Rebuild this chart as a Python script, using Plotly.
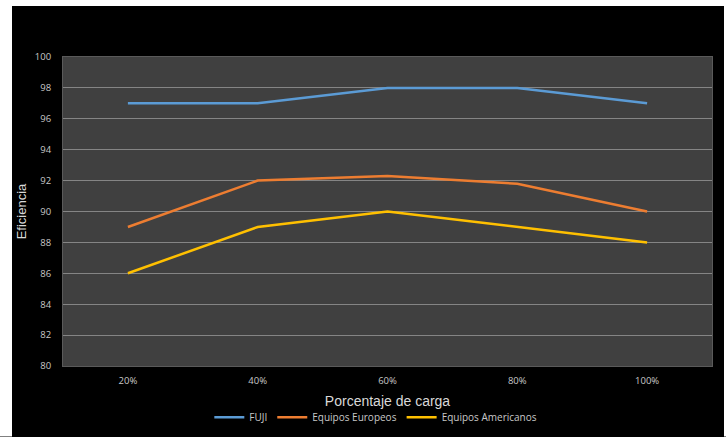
import plotly.graph_objects as go

# Load percentage categories and efficiency values per equipment group
categorias = ["20%", "40%", "60%", "80%", "100%"]
fuji = [97, 97, 98, 98, 97]
europeos = [89, 92, 92.3, 91.8, 90]
americanos = [86, 89, 90, 89, 88]
y_ticks = list(range(80, 101, 2))

series = [
    ("FUJI", fuji, "#5b9bd5"),
    ("Equipos Europeos", europeos, "#ed7d31"),
    ("Equipos Americanos", americanos, "#ffc000"),
]

fig = go.Figure()
for nombre, valores, color in series:
    fig.add_trace(go.Scatter(
        x=categorias, y=valores, name=nombre, mode="lines",
        line=dict(color=color, width=2.5),
    ))

W, H = 726, 437
L, R, T, B = 63, 14, 57, 70.5

label_font = dict(family="Open Sans, Lato, sans-serif", size=9.5, color="#c8c8c8")
title_font = dict(family="Liberation Sans Narrow, Liberation Sans, Arial, sans-serif",
                  color="#d9d9d9")

fig.update_layout(
    width=W, height=H,
    margin=dict(l=L, r=R, t=T, b=B, autoexpand=False),
    paper_bgcolor="#000000",
    plot_bgcolor="#404040",
    showlegend=True,
    legend=dict(
        orientation="h", x=0.482, xanchor="center", y=-0.166, yanchor="middle",
        font=dict(family="Open Sans, Lato, sans-serif", size=10, color="#c8c8c8"),
        bgcolor="rgba(0,0,0,0)", itemwidth=30,
    ),
    xaxis=dict(
        type="category", range=[-0.5, len(categorias) - 0.5],
        showgrid=False, zeroline=False, automargin=False,
        showline=True, mirror=True, linecolor="#5a5a5a", linewidth=1,
        tickfont=label_font, ticks="", ticklabelstandoff=6,
        title=dict(text="Porcentaje de carga", font=dict(size=14, **title_font), standoff=9),
    ),
    yaxis=dict(
        range=[80, 100], tickvals=y_ticks, ticktext=[str(v) for v in y_ticks],
        showgrid=True, gridcolor="#858585", gridwidth=1, zeroline=False, automargin=False,
        showline=True, mirror=True, linecolor="#5a5a5a", linewidth=1,
        tickfont=label_font, ticks="", ticklabelstandoff=9,
        title=dict(text="Eficiencia", font=dict(size=13, **title_font), standoff=5),
    ),
)

# White page edges around the dark chart frame
pw, ph = W - L - R, H - T - B
def px_x(px):
    return (px - L) / pw
def px_y(py):
    return (H - B - py) / ph

for x0, y0, x1, y1 in [(0, 0, W, 6), (0, 0, 12, H), (724, 0, W, H)]:
    fig.add_shape(type="rect", xref="paper", yref="paper",
                  x0=px_x(x0), x1=px_x(x1), y0=px_y(y1), y1=px_y(y0),
                  fillcolor="#ffffff", line=dict(width=0), layer="above")

fig.write_html("out.html")
